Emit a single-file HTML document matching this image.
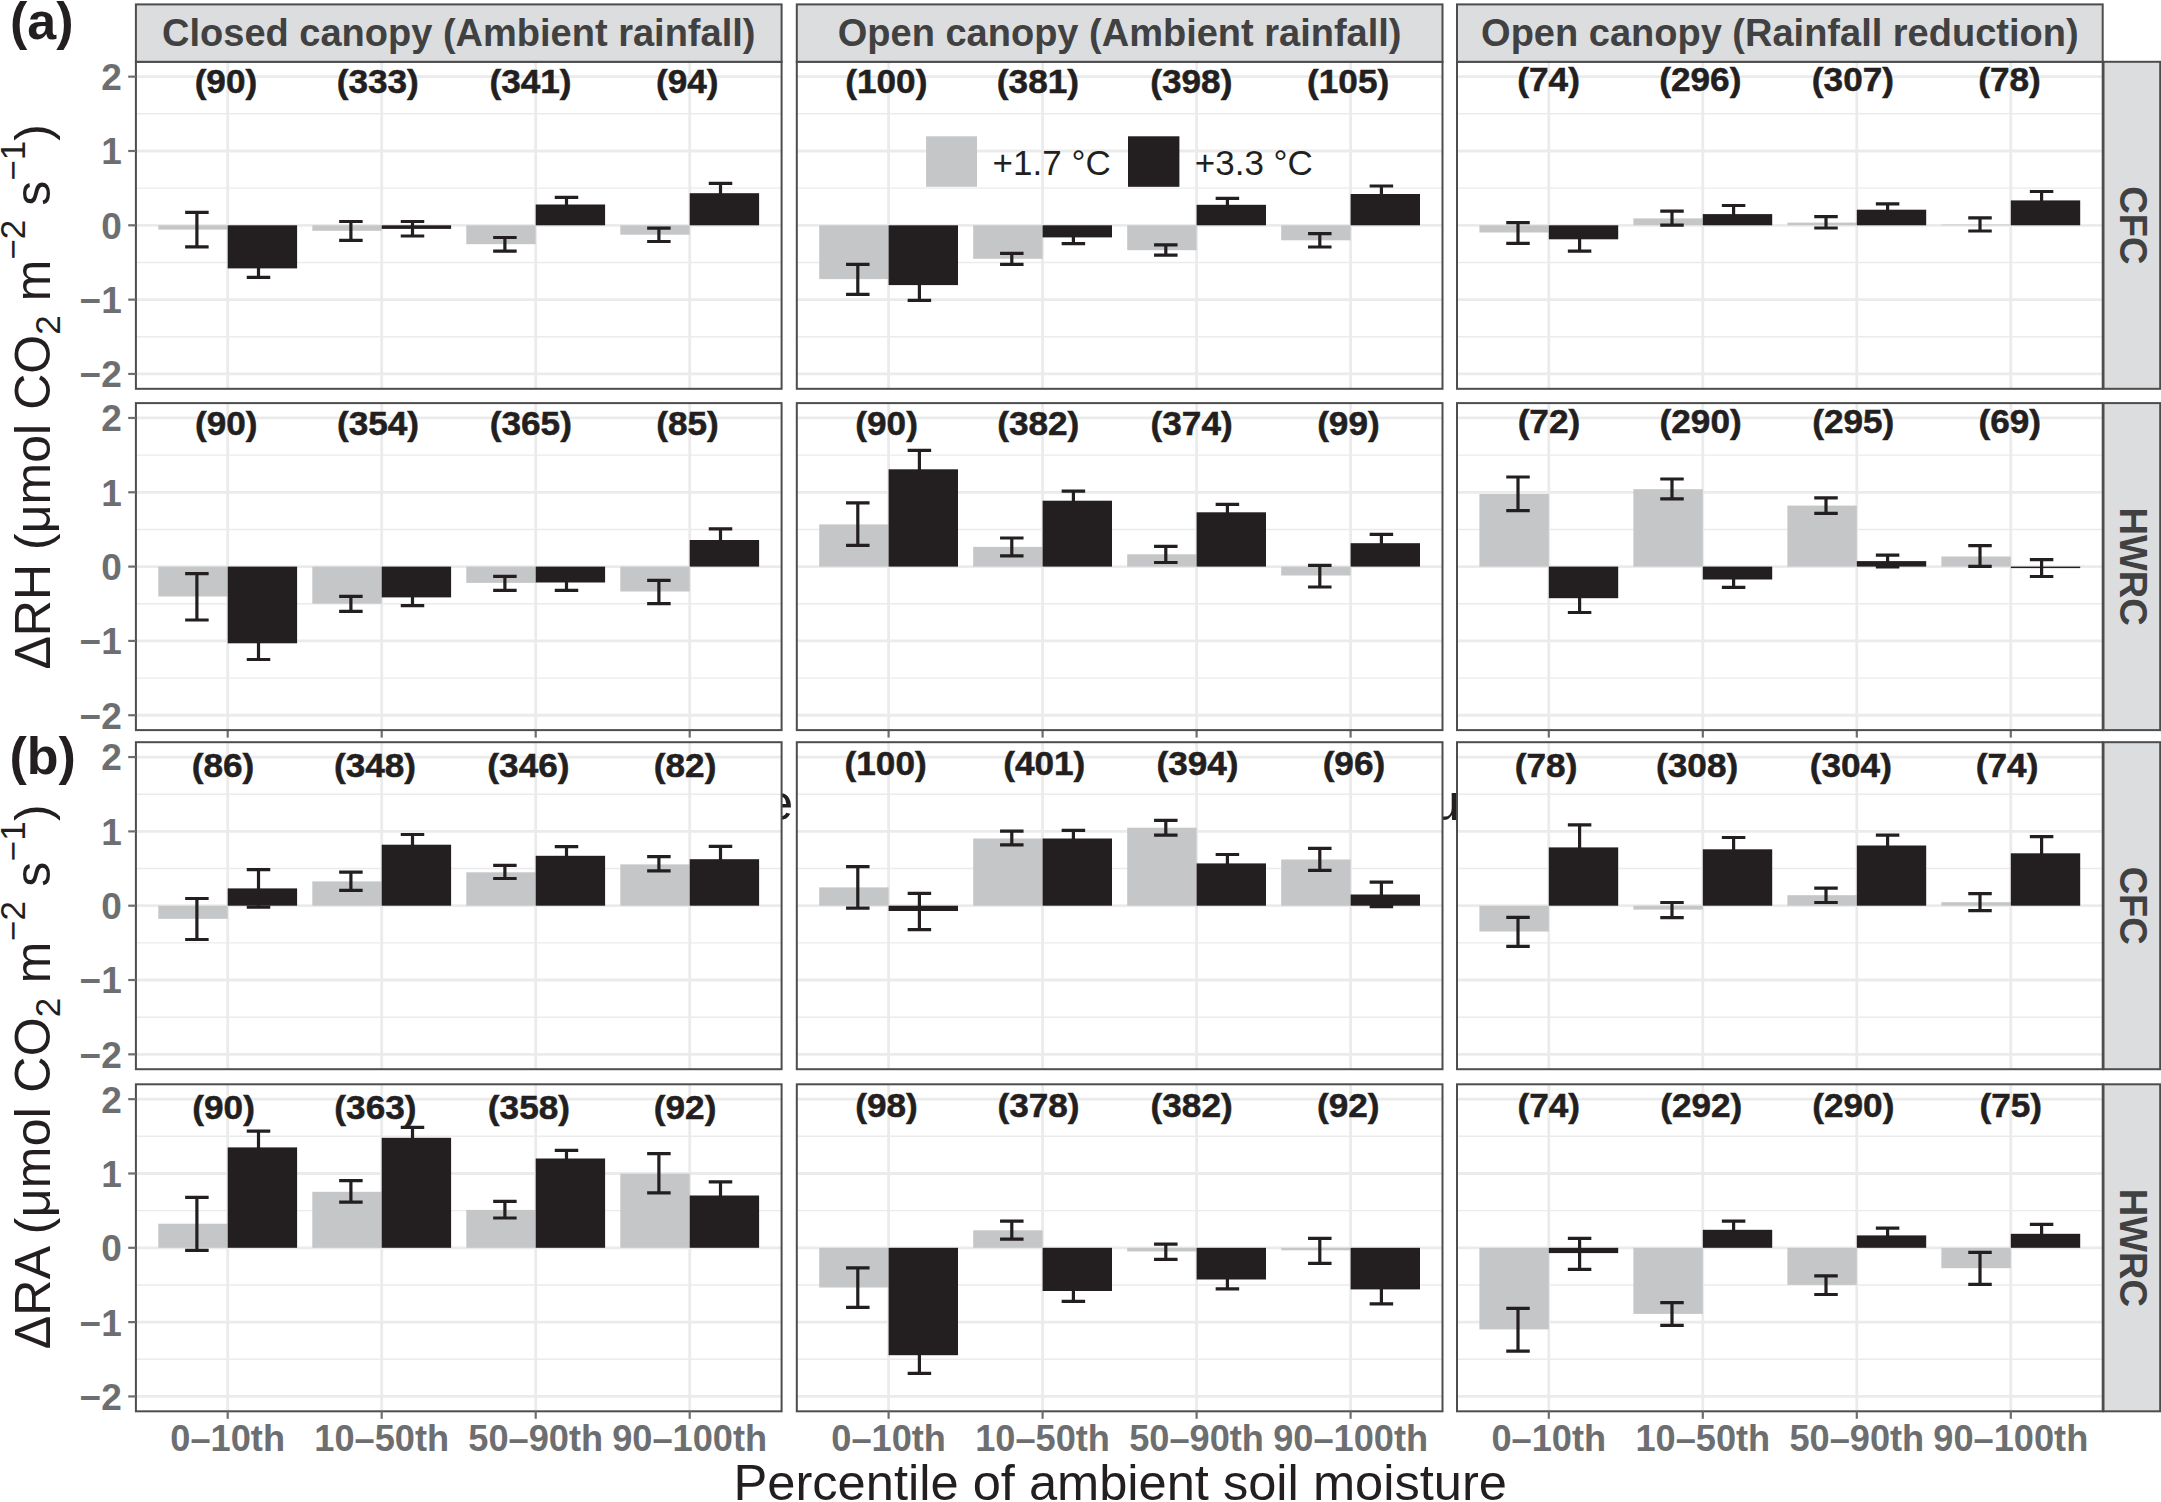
<!DOCTYPE html>
<html><head><meta charset="utf-8"><title>Warming effects on soil respiration</title>
<style>
html,body{margin:0;padding:0;background:#fff;width:2161px;height:1502px;overflow:hidden}
svg{display:block;font-family:"Liberation Sans",sans-serif}
</style></head><body>
<svg width="2161" height="1502" viewBox="0 0 2161 1502">
<rect width="2161" height="1502" fill="#fff"/>
<text x="765" y="820" font-size="50.6" fill="#231f20">e</text>
<text x="1431.5" y="820" font-size="50.6" fill="#231f20">u</text>
<line x1="227.7" y1="730.1" x2="227.7" y2="737.6" stroke="#6d6e70" stroke-width="2.2"/>
<line x1="381.7" y1="730.1" x2="381.7" y2="737.6" stroke="#6d6e70" stroke-width="2.2"/>
<line x1="535.7" y1="730.1" x2="535.7" y2="737.6" stroke="#6d6e70" stroke-width="2.2"/>
<line x1="689.7" y1="730.1" x2="689.7" y2="737.6" stroke="#6d6e70" stroke-width="2.2"/>
<line x1="888.6" y1="730.1" x2="888.6" y2="737.6" stroke="#6d6e70" stroke-width="2.2"/>
<line x1="1042.6" y1="730.1" x2="1042.6" y2="737.6" stroke="#6d6e70" stroke-width="2.2"/>
<line x1="1196.6" y1="730.1" x2="1196.6" y2="737.6" stroke="#6d6e70" stroke-width="2.2"/>
<line x1="1350.6" y1="730.1" x2="1350.6" y2="737.6" stroke="#6d6e70" stroke-width="2.2"/>
<line x1="1548.8" y1="730.1" x2="1548.8" y2="737.6" stroke="#6d6e70" stroke-width="2.2"/>
<line x1="1702.8" y1="730.1" x2="1702.8" y2="737.6" stroke="#6d6e70" stroke-width="2.2"/>
<line x1="1856.8" y1="730.1" x2="1856.8" y2="737.6" stroke="#6d6e70" stroke-width="2.2"/>
<line x1="2010.8" y1="730.1" x2="2010.8" y2="737.6" stroke="#6d6e70" stroke-width="2.2"/>
<rect x="135.9" y="61.8" width="645.7" height="327.01" fill="#fff"/>
<line x1="135.9" y1="113.82" x2="781.6" y2="113.82" stroke="#ebebeb" stroke-width="1.4"/>
<line x1="135.9" y1="188.14" x2="781.6" y2="188.14" stroke="#ebebeb" stroke-width="1.4"/>
<line x1="135.9" y1="262.46" x2="781.6" y2="262.46" stroke="#ebebeb" stroke-width="1.4"/>
<line x1="135.9" y1="336.78" x2="781.6" y2="336.78" stroke="#ebebeb" stroke-width="1.4"/>
<line x1="135.9" y1="76.66" x2="781.6" y2="76.66" stroke="#ebebeb" stroke-width="2.8"/>
<line x1="135.9" y1="150.98" x2="781.6" y2="150.98" stroke="#ebebeb" stroke-width="2.8"/>
<line x1="135.9" y1="225.3" x2="781.6" y2="225.3" stroke="#ebebeb" stroke-width="2.8"/>
<line x1="135.9" y1="299.62" x2="781.6" y2="299.62" stroke="#ebebeb" stroke-width="2.8"/>
<line x1="135.9" y1="373.94" x2="781.6" y2="373.94" stroke="#ebebeb" stroke-width="2.8"/>
<line x1="227.7" y1="61.8" x2="227.7" y2="388.8" stroke="#ebebeb" stroke-width="2.8"/>
<line x1="381.7" y1="61.8" x2="381.7" y2="388.8" stroke="#ebebeb" stroke-width="2.8"/>
<line x1="535.7" y1="61.8" x2="535.7" y2="388.8" stroke="#ebebeb" stroke-width="2.8"/>
<line x1="689.7" y1="61.8" x2="689.7" y2="388.8" stroke="#ebebeb" stroke-width="2.8"/>
<rect x="158.3" y="225.3" width="69.4" height="4.3" fill="#c5c6c8"/>
<path d="M246.75 259.4H270.25M246.75 277.4H270.25M258.5 259.4V277.4" stroke="#231f20" stroke-width="3.2" fill="none"/>
<rect x="227.7" y="225.3" width="69.4" height="43.1" fill="#231f20"/>
<path d="M185.15 212.3H208.65M185.15 246.9H208.65M196.9 212.3V246.9" stroke="#231f20" stroke-width="3.2" fill="none"/>
<text transform="translate(225.9 93.4) scale(1.05 1)" text-anchor="middle" font-size="33.5" font-weight="bold" fill="#231f20" stroke="#231f20" stroke-width="0.5">(90)</text>
<rect x="312.3" y="225.3" width="69.4" height="5.5" fill="#c5c6c8"/>
<path d="M400.75 221.5H424.25M400.75 236H424.25M412.5 221.5V236" stroke="#231f20" stroke-width="3.2" fill="none"/>
<rect x="381.7" y="225.3" width="69.4" height="3.6" fill="#231f20"/>
<path d="M339.15 221.5H362.65M339.15 240.3H362.65M350.9 221.5V240.3" stroke="#231f20" stroke-width="3.2" fill="none"/>
<text transform="translate(377.7 93.4) scale(1.05 1)" text-anchor="middle" font-size="33.5" font-weight="bold" fill="#231f20" stroke="#231f20" stroke-width="0.5">(333)</text>
<rect x="466.3" y="225.3" width="69.4" height="18.9" fill="#c5c6c8"/>
<path d="M554.75 197.4H578.25M554.75 211.6H578.25M566.5 197.4V211.6" stroke="#231f20" stroke-width="3.2" fill="none"/>
<rect x="535.7" y="204.5" width="69.4" height="20.8" fill="#231f20"/>
<path d="M493.15 237.5H516.65M493.15 251.2H516.65M504.9 237.5V251.2" stroke="#231f20" stroke-width="3.2" fill="none"/>
<text transform="translate(530.5 93.4) scale(1.05 1)" text-anchor="middle" font-size="33.5" font-weight="bold" fill="#231f20" stroke="#231f20" stroke-width="0.5">(341)</text>
<rect x="620.3" y="225.3" width="69.4" height="9.4" fill="#c5c6c8"/>
<path d="M708.75 183.3H732.25M708.75 203.1H732.25M720.5 183.3V203.1" stroke="#231f20" stroke-width="3.2" fill="none"/>
<rect x="689.7" y="193.2" width="69.4" height="32.1" fill="#231f20"/>
<path d="M647.15 228.1H670.65M647.15 241.5H670.65M658.9 228.1V241.5" stroke="#231f20" stroke-width="3.2" fill="none"/>
<text transform="translate(687.2 93.4) scale(1.05 1)" text-anchor="middle" font-size="33.5" font-weight="bold" fill="#231f20" stroke="#231f20" stroke-width="0.5">(94)</text>
<rect x="135.9" y="61.8" width="645.7" height="327.01" fill="none" stroke="#4d4d4d" stroke-width="2"/>
<rect x="796.8" y="61.8" width="645.7" height="327.01" fill="#fff"/>
<line x1="796.8" y1="113.82" x2="1442.5" y2="113.82" stroke="#ebebeb" stroke-width="1.4"/>
<line x1="796.8" y1="188.14" x2="1442.5" y2="188.14" stroke="#ebebeb" stroke-width="1.4"/>
<line x1="796.8" y1="262.46" x2="1442.5" y2="262.46" stroke="#ebebeb" stroke-width="1.4"/>
<line x1="796.8" y1="336.78" x2="1442.5" y2="336.78" stroke="#ebebeb" stroke-width="1.4"/>
<line x1="796.8" y1="76.66" x2="1442.5" y2="76.66" stroke="#ebebeb" stroke-width="2.8"/>
<line x1="796.8" y1="150.98" x2="1442.5" y2="150.98" stroke="#ebebeb" stroke-width="2.8"/>
<line x1="796.8" y1="225.3" x2="1442.5" y2="225.3" stroke="#ebebeb" stroke-width="2.8"/>
<line x1="796.8" y1="299.62" x2="1442.5" y2="299.62" stroke="#ebebeb" stroke-width="2.8"/>
<line x1="796.8" y1="373.94" x2="1442.5" y2="373.94" stroke="#ebebeb" stroke-width="2.8"/>
<line x1="888.6" y1="61.8" x2="888.6" y2="388.8" stroke="#ebebeb" stroke-width="2.8"/>
<line x1="1042.6" y1="61.8" x2="1042.6" y2="388.8" stroke="#ebebeb" stroke-width="2.8"/>
<line x1="1196.6" y1="61.8" x2="1196.6" y2="388.8" stroke="#ebebeb" stroke-width="2.8"/>
<line x1="1350.6" y1="61.8" x2="1350.6" y2="388.8" stroke="#ebebeb" stroke-width="2.8"/>
<rect x="819.2" y="225.3" width="69.4" height="53.8" fill="#c5c6c8"/>
<path d="M907.65 269.9H931.15M907.65 300.3H931.15M919.4 269.9V300.3" stroke="#231f20" stroke-width="3.2" fill="none"/>
<rect x="888.6" y="225.3" width="69.4" height="59.8" fill="#231f20"/>
<path d="M846.05 264.3H869.55M846.05 294.4H869.55M857.8 264.3V294.4" stroke="#231f20" stroke-width="3.2" fill="none"/>
<text transform="translate(886.3 93.4) scale(1.05 1)" text-anchor="middle" font-size="33.5" font-weight="bold" fill="#231f20" stroke="#231f20" stroke-width="0.5">(100)</text>
<rect x="973.2" y="225.3" width="69.4" height="33.5" fill="#c5c6c8"/>
<path d="M1061.65 231.1H1085.15M1061.65 243.7H1085.15M1073.4 231.1V243.7" stroke="#231f20" stroke-width="3.2" fill="none"/>
<rect x="1042.6" y="225.3" width="69.4" height="12.1" fill="#231f20"/>
<path d="M1000.05 253.4H1023.55M1000.05 264.3H1023.55M1011.8 253.4V264.3" stroke="#231f20" stroke-width="3.2" fill="none"/>
<text transform="translate(1037.9 93.4) scale(1.05 1)" text-anchor="middle" font-size="33.5" font-weight="bold" fill="#231f20" stroke="#231f20" stroke-width="0.5">(381)</text>
<rect x="1127.2" y="225.3" width="69.4" height="24.9" fill="#c5c6c8"/>
<path d="M1215.65 198.4H1239.15M1215.65 211.2H1239.15M1227.4 198.4V211.2" stroke="#231f20" stroke-width="3.2" fill="none"/>
<rect x="1196.6" y="204.8" width="69.4" height="20.5" fill="#231f20"/>
<path d="M1154.05 244.8H1177.55M1154.05 255.1H1177.55M1165.8 244.8V255.1" stroke="#231f20" stroke-width="3.2" fill="none"/>
<text transform="translate(1191.3 93.4) scale(1.05 1)" text-anchor="middle" font-size="33.5" font-weight="bold" fill="#231f20" stroke="#231f20" stroke-width="0.5">(398)</text>
<rect x="1281.2" y="225.3" width="69.4" height="15" fill="#c5c6c8"/>
<path d="M1369.65 186H1393.15M1369.65 202H1393.15M1381.4 186V202" stroke="#231f20" stroke-width="3.2" fill="none"/>
<rect x="1350.6" y="194" width="69.4" height="31.3" fill="#231f20"/>
<path d="M1308.05 233.7H1331.55M1308.05 247H1331.55M1319.8 233.7V247" stroke="#231f20" stroke-width="3.2" fill="none"/>
<text transform="translate(1348.1 93.4) scale(1.05 1)" text-anchor="middle" font-size="33.5" font-weight="bold" fill="#231f20" stroke="#231f20" stroke-width="0.5">(105)</text>
<rect x="796.8" y="61.8" width="645.7" height="327.01" fill="none" stroke="#4d4d4d" stroke-width="2"/>
<rect x="1457" y="61.8" width="645.7" height="327.01" fill="#fff"/>
<line x1="1457" y1="113.82" x2="2102.7" y2="113.82" stroke="#ebebeb" stroke-width="1.4"/>
<line x1="1457" y1="188.14" x2="2102.7" y2="188.14" stroke="#ebebeb" stroke-width="1.4"/>
<line x1="1457" y1="262.46" x2="2102.7" y2="262.46" stroke="#ebebeb" stroke-width="1.4"/>
<line x1="1457" y1="336.78" x2="2102.7" y2="336.78" stroke="#ebebeb" stroke-width="1.4"/>
<line x1="1457" y1="76.66" x2="2102.7" y2="76.66" stroke="#ebebeb" stroke-width="2.8"/>
<line x1="1457" y1="150.98" x2="2102.7" y2="150.98" stroke="#ebebeb" stroke-width="2.8"/>
<line x1="1457" y1="225.3" x2="2102.7" y2="225.3" stroke="#ebebeb" stroke-width="2.8"/>
<line x1="1457" y1="299.62" x2="2102.7" y2="299.62" stroke="#ebebeb" stroke-width="2.8"/>
<line x1="1457" y1="373.94" x2="2102.7" y2="373.94" stroke="#ebebeb" stroke-width="2.8"/>
<line x1="1548.8" y1="61.8" x2="1548.8" y2="388.8" stroke="#ebebeb" stroke-width="2.8"/>
<line x1="1702.8" y1="61.8" x2="1702.8" y2="388.8" stroke="#ebebeb" stroke-width="2.8"/>
<line x1="1856.8" y1="61.8" x2="1856.8" y2="388.8" stroke="#ebebeb" stroke-width="2.8"/>
<line x1="2010.8" y1="61.8" x2="2010.8" y2="388.8" stroke="#ebebeb" stroke-width="2.8"/>
<rect x="1479.4" y="225.3" width="69.4" height="7.2" fill="#c5c6c8"/>
<path d="M1567.85 227.5H1591.35M1567.85 251.1H1591.35M1579.6 227.5V251.1" stroke="#231f20" stroke-width="3.2" fill="none"/>
<rect x="1548.8" y="225.3" width="69.4" height="14" fill="#231f20"/>
<path d="M1506.25 222.6H1529.75M1506.25 243.3H1529.75M1518 222.6V243.3" stroke="#231f20" stroke-width="3.2" fill="none"/>
<text transform="translate(1548.6 90.9) scale(1.05 1)" text-anchor="middle" font-size="33.5" font-weight="bold" fill="#231f20" stroke="#231f20" stroke-width="0.5">(74)</text>
<rect x="1633.4" y="218.4" width="69.4" height="6.9" fill="#c5c6c8"/>
<path d="M1721.85 205.5H1745.35M1721.85 222.7H1745.35M1733.6 205.5V222.7" stroke="#231f20" stroke-width="3.2" fill="none"/>
<rect x="1702.8" y="214.1" width="69.4" height="11.2" fill="#231f20"/>
<path d="M1660.25 211.2H1683.75M1660.25 225.2H1683.75M1672 211.2V225.2" stroke="#231f20" stroke-width="3.2" fill="none"/>
<text transform="translate(1700.3 90.9) scale(1.05 1)" text-anchor="middle" font-size="33.5" font-weight="bold" fill="#231f20" stroke="#231f20" stroke-width="0.5">(296)</text>
<rect x="1787.4" y="222.6" width="69.4" height="2.7" fill="#c5c6c8"/>
<path d="M1875.85 203.8H1899.35M1875.85 215.6H1899.35M1887.6 203.8V215.6" stroke="#231f20" stroke-width="3.2" fill="none"/>
<rect x="1856.8" y="209.7" width="69.4" height="15.6" fill="#231f20"/>
<path d="M1814.25 216.6H1837.75M1814.25 228H1837.75M1826 216.6V228" stroke="#231f20" stroke-width="3.2" fill="none"/>
<text transform="translate(1852.9 90.9) scale(1.05 1)" text-anchor="middle" font-size="33.5" font-weight="bold" fill="#231f20" stroke="#231f20" stroke-width="0.5">(307)</text>
<rect x="1941.4" y="224.5" width="69.4" height="0.8" fill="#c5c6c8"/>
<path d="M2029.85 191.5H2053.35M2029.85 209.3H2053.35M2041.6 191.5V209.3" stroke="#231f20" stroke-width="3.2" fill="none"/>
<rect x="2010.8" y="200.4" width="69.4" height="24.9" fill="#231f20"/>
<path d="M1968.25 217.8H1991.75M1968.25 231H1991.75M1980 217.8V231" stroke="#231f20" stroke-width="3.2" fill="none"/>
<text transform="translate(2009.5 90.9) scale(1.05 1)" text-anchor="middle" font-size="33.5" font-weight="bold" fill="#231f20" stroke="#231f20" stroke-width="0.5">(78)</text>
<rect x="1457" y="61.8" width="645.7" height="327.01" fill="none" stroke="#4d4d4d" stroke-width="2"/>
<rect x="2103.5" y="61.8" width="56.7" height="327.01" fill="#dcdddf" stroke="#4d4d4d" stroke-width="2"/>
<text transform="translate(2119.5 225.3) rotate(90)" text-anchor="middle" font-size="38" font-weight="bold" fill="#414141">CFC</text>
<line x1="128.2" y1="76.66" x2="135.9" y2="76.66" stroke="#6d6e70" stroke-width="2.2"/>
<text x="121.8" y="90.06" text-anchor="end" font-size="37" font-weight="bold" fill="#6d6e70">2</text>
<line x1="128.2" y1="150.98" x2="135.9" y2="150.98" stroke="#6d6e70" stroke-width="2.2"/>
<text x="121.8" y="164.38" text-anchor="end" font-size="37" font-weight="bold" fill="#6d6e70">1</text>
<line x1="128.2" y1="225.3" x2="135.9" y2="225.3" stroke="#6d6e70" stroke-width="2.2"/>
<text x="121.8" y="238.7" text-anchor="end" font-size="37" font-weight="bold" fill="#6d6e70">0</text>
<line x1="128.2" y1="299.62" x2="135.9" y2="299.62" stroke="#6d6e70" stroke-width="2.2"/>
<text x="121.8" y="313.02" text-anchor="end" font-size="37" font-weight="bold" fill="#6d6e70">−1</text>
<line x1="128.2" y1="373.94" x2="135.9" y2="373.94" stroke="#6d6e70" stroke-width="2.2"/>
<text x="121.8" y="387.34" text-anchor="end" font-size="37" font-weight="bold" fill="#6d6e70">−2</text>
<rect x="135.9" y="403.1" width="645.7" height="327.01" fill="#fff"/>
<line x1="135.9" y1="455.12" x2="781.6" y2="455.12" stroke="#ebebeb" stroke-width="1.4"/>
<line x1="135.9" y1="529.44" x2="781.6" y2="529.44" stroke="#ebebeb" stroke-width="1.4"/>
<line x1="135.9" y1="603.76" x2="781.6" y2="603.76" stroke="#ebebeb" stroke-width="1.4"/>
<line x1="135.9" y1="678.08" x2="781.6" y2="678.08" stroke="#ebebeb" stroke-width="1.4"/>
<line x1="135.9" y1="417.96" x2="781.6" y2="417.96" stroke="#ebebeb" stroke-width="2.8"/>
<line x1="135.9" y1="492.28" x2="781.6" y2="492.28" stroke="#ebebeb" stroke-width="2.8"/>
<line x1="135.9" y1="566.6" x2="781.6" y2="566.6" stroke="#ebebeb" stroke-width="2.8"/>
<line x1="135.9" y1="640.92" x2="781.6" y2="640.92" stroke="#ebebeb" stroke-width="2.8"/>
<line x1="135.9" y1="715.24" x2="781.6" y2="715.24" stroke="#ebebeb" stroke-width="2.8"/>
<line x1="227.7" y1="403.1" x2="227.7" y2="730.1" stroke="#ebebeb" stroke-width="2.8"/>
<line x1="381.7" y1="403.1" x2="381.7" y2="730.1" stroke="#ebebeb" stroke-width="2.8"/>
<line x1="535.7" y1="403.1" x2="535.7" y2="730.1" stroke="#ebebeb" stroke-width="2.8"/>
<line x1="689.7" y1="403.1" x2="689.7" y2="730.1" stroke="#ebebeb" stroke-width="2.8"/>
<rect x="158.3" y="566.6" width="69.4" height="29.9" fill="#c5c6c8"/>
<path d="M246.75 627.1H270.25M246.75 659.5H270.25M258.5 627.1V659.5" stroke="#231f20" stroke-width="3.2" fill="none"/>
<rect x="227.7" y="566.6" width="69.4" height="76.7" fill="#231f20"/>
<path d="M185.15 573.6H208.65M185.15 620H208.65M196.9 573.6V620" stroke="#231f20" stroke-width="3.2" fill="none"/>
<text transform="translate(226.2 435.1) scale(1.05 1)" text-anchor="middle" font-size="33.5" font-weight="bold" fill="#231f20" stroke="#231f20" stroke-width="0.5">(90)</text>
<rect x="312.3" y="566.6" width="69.4" height="37.1" fill="#c5c6c8"/>
<path d="M400.75 589.2H424.25M400.75 605.6H424.25M412.5 589.2V605.6" stroke="#231f20" stroke-width="3.2" fill="none"/>
<rect x="381.7" y="566.6" width="69.4" height="30.8" fill="#231f20"/>
<path d="M339.15 596.3H362.65M339.15 611.4H362.65M350.9 596.3V611.4" stroke="#231f20" stroke-width="3.2" fill="none"/>
<text transform="translate(378 435.1) scale(1.05 1)" text-anchor="middle" font-size="33.5" font-weight="bold" fill="#231f20" stroke="#231f20" stroke-width="0.5">(354)</text>
<rect x="466.3" y="566.6" width="69.4" height="16.3" fill="#c5c6c8"/>
<path d="M554.75 574.7H578.25M554.75 590.3H578.25M566.5 574.7V590.3" stroke="#231f20" stroke-width="3.2" fill="none"/>
<rect x="535.7" y="566.6" width="69.4" height="15.9" fill="#231f20"/>
<path d="M493.15 576.3H516.65M493.15 590.3H516.65M504.9 576.3V590.3" stroke="#231f20" stroke-width="3.2" fill="none"/>
<text transform="translate(530.8 435.1) scale(1.05 1)" text-anchor="middle" font-size="33.5" font-weight="bold" fill="#231f20" stroke="#231f20" stroke-width="0.5">(365)</text>
<rect x="620.3" y="566.6" width="69.4" height="24.9" fill="#c5c6c8"/>
<path d="M708.75 528.9H732.25M708.75 551.1H732.25M720.5 528.9V551.1" stroke="#231f20" stroke-width="3.2" fill="none"/>
<rect x="689.7" y="540" width="69.4" height="26.6" fill="#231f20"/>
<path d="M647.15 580.4H670.65M647.15 603.6H670.65M658.9 580.4V603.6" stroke="#231f20" stroke-width="3.2" fill="none"/>
<text transform="translate(687.5 435.1) scale(1.05 1)" text-anchor="middle" font-size="33.5" font-weight="bold" fill="#231f20" stroke="#231f20" stroke-width="0.5">(85)</text>
<rect x="135.9" y="403.1" width="645.7" height="327.01" fill="none" stroke="#4d4d4d" stroke-width="2"/>
<rect x="796.8" y="403.1" width="645.7" height="327.01" fill="#fff"/>
<line x1="796.8" y1="455.12" x2="1442.5" y2="455.12" stroke="#ebebeb" stroke-width="1.4"/>
<line x1="796.8" y1="529.44" x2="1442.5" y2="529.44" stroke="#ebebeb" stroke-width="1.4"/>
<line x1="796.8" y1="603.76" x2="1442.5" y2="603.76" stroke="#ebebeb" stroke-width="1.4"/>
<line x1="796.8" y1="678.08" x2="1442.5" y2="678.08" stroke="#ebebeb" stroke-width="1.4"/>
<line x1="796.8" y1="417.96" x2="1442.5" y2="417.96" stroke="#ebebeb" stroke-width="2.8"/>
<line x1="796.8" y1="492.28" x2="1442.5" y2="492.28" stroke="#ebebeb" stroke-width="2.8"/>
<line x1="796.8" y1="566.6" x2="1442.5" y2="566.6" stroke="#ebebeb" stroke-width="2.8"/>
<line x1="796.8" y1="640.92" x2="1442.5" y2="640.92" stroke="#ebebeb" stroke-width="2.8"/>
<line x1="796.8" y1="715.24" x2="1442.5" y2="715.24" stroke="#ebebeb" stroke-width="2.8"/>
<line x1="888.6" y1="403.1" x2="888.6" y2="730.1" stroke="#ebebeb" stroke-width="2.8"/>
<line x1="1042.6" y1="403.1" x2="1042.6" y2="730.1" stroke="#ebebeb" stroke-width="2.8"/>
<line x1="1196.6" y1="403.1" x2="1196.6" y2="730.1" stroke="#ebebeb" stroke-width="2.8"/>
<line x1="1350.6" y1="403.1" x2="1350.6" y2="730.1" stroke="#ebebeb" stroke-width="2.8"/>
<rect x="819.2" y="524.4" width="69.4" height="42.2" fill="#c5c6c8"/>
<path d="M907.65 450.4H931.15M907.65 488.2H931.15M919.4 450.4V488.2" stroke="#231f20" stroke-width="3.2" fill="none"/>
<rect x="888.6" y="469.3" width="69.4" height="97.3" fill="#231f20"/>
<path d="M846.05 502.9H869.55M846.05 545.4H869.55M857.8 502.9V545.4" stroke="#231f20" stroke-width="3.2" fill="none"/>
<text transform="translate(886.6 435.1) scale(1.05 1)" text-anchor="middle" font-size="33.5" font-weight="bold" fill="#231f20" stroke="#231f20" stroke-width="0.5">(90)</text>
<rect x="973.2" y="546.9" width="69.4" height="19.7" fill="#c5c6c8"/>
<path d="M1061.65 491.1H1085.15M1061.65 510.3H1085.15M1073.4 491.1V510.3" stroke="#231f20" stroke-width="3.2" fill="none"/>
<rect x="1042.6" y="500.7" width="69.4" height="65.9" fill="#231f20"/>
<path d="M1000.05 538H1023.55M1000.05 555.8H1023.55M1011.8 538V555.8" stroke="#231f20" stroke-width="3.2" fill="none"/>
<text transform="translate(1038.2 435.1) scale(1.05 1)" text-anchor="middle" font-size="33.5" font-weight="bold" fill="#231f20" stroke="#231f20" stroke-width="0.5">(382)</text>
<rect x="1127.2" y="554.3" width="69.4" height="12.3" fill="#c5c6c8"/>
<path d="M1215.65 504.4H1239.15M1215.65 520.2H1239.15M1227.4 504.4V520.2" stroke="#231f20" stroke-width="3.2" fill="none"/>
<rect x="1196.6" y="512.3" width="69.4" height="54.3" fill="#231f20"/>
<path d="M1154.05 546.3H1177.55M1154.05 562.5H1177.55M1165.8 546.3V562.5" stroke="#231f20" stroke-width="3.2" fill="none"/>
<text transform="translate(1191.6 435.1) scale(1.05 1)" text-anchor="middle" font-size="33.5" font-weight="bold" fill="#231f20" stroke="#231f20" stroke-width="0.5">(374)</text>
<rect x="1281.2" y="566.6" width="69.4" height="8.9" fill="#c5c6c8"/>
<path d="M1369.65 534.3H1393.15M1369.65 552.1H1393.15M1381.4 534.3V552.1" stroke="#231f20" stroke-width="3.2" fill="none"/>
<rect x="1350.6" y="543.2" width="69.4" height="23.4" fill="#231f20"/>
<path d="M1308.05 565.4H1331.55M1308.05 587H1331.55M1319.8 565.4V587" stroke="#231f20" stroke-width="3.2" fill="none"/>
<text transform="translate(1348.4 435.1) scale(1.05 1)" text-anchor="middle" font-size="33.5" font-weight="bold" fill="#231f20" stroke="#231f20" stroke-width="0.5">(99)</text>
<rect x="796.8" y="403.1" width="645.7" height="327.01" fill="none" stroke="#4d4d4d" stroke-width="2"/>
<rect x="1457" y="403.1" width="645.7" height="327.01" fill="#fff"/>
<line x1="1457" y1="455.12" x2="2102.7" y2="455.12" stroke="#ebebeb" stroke-width="1.4"/>
<line x1="1457" y1="529.44" x2="2102.7" y2="529.44" stroke="#ebebeb" stroke-width="1.4"/>
<line x1="1457" y1="603.76" x2="2102.7" y2="603.76" stroke="#ebebeb" stroke-width="1.4"/>
<line x1="1457" y1="678.08" x2="2102.7" y2="678.08" stroke="#ebebeb" stroke-width="1.4"/>
<line x1="1457" y1="417.96" x2="2102.7" y2="417.96" stroke="#ebebeb" stroke-width="2.8"/>
<line x1="1457" y1="492.28" x2="2102.7" y2="492.28" stroke="#ebebeb" stroke-width="2.8"/>
<line x1="1457" y1="566.6" x2="2102.7" y2="566.6" stroke="#ebebeb" stroke-width="2.8"/>
<line x1="1457" y1="640.92" x2="2102.7" y2="640.92" stroke="#ebebeb" stroke-width="2.8"/>
<line x1="1457" y1="715.24" x2="2102.7" y2="715.24" stroke="#ebebeb" stroke-width="2.8"/>
<line x1="1548.8" y1="403.1" x2="1548.8" y2="730.1" stroke="#ebebeb" stroke-width="2.8"/>
<line x1="1702.8" y1="403.1" x2="1702.8" y2="730.1" stroke="#ebebeb" stroke-width="2.8"/>
<line x1="1856.8" y1="403.1" x2="1856.8" y2="730.1" stroke="#ebebeb" stroke-width="2.8"/>
<line x1="2010.8" y1="403.1" x2="2010.8" y2="730.1" stroke="#ebebeb" stroke-width="2.8"/>
<rect x="1479.4" y="494" width="69.4" height="72.6" fill="#c5c6c8"/>
<path d="M1567.85 583.9H1591.35M1567.85 612.5H1591.35M1579.6 583.9V612.5" stroke="#231f20" stroke-width="3.2" fill="none"/>
<rect x="1548.8" y="566.6" width="69.4" height="31.6" fill="#231f20"/>
<path d="M1506.25 477H1529.75M1506.25 510.6H1529.75M1518 477V510.6" stroke="#231f20" stroke-width="3.2" fill="none"/>
<text transform="translate(1548.9 432.8) scale(1.05 1)" text-anchor="middle" font-size="33.5" font-weight="bold" fill="#231f20" stroke="#231f20" stroke-width="0.5">(72)</text>
<rect x="1633.4" y="489.2" width="69.4" height="77.4" fill="#c5c6c8"/>
<path d="M1721.85 571.7H1745.35M1721.85 587.3H1745.35M1733.6 571.7V587.3" stroke="#231f20" stroke-width="3.2" fill="none"/>
<rect x="1702.8" y="566.6" width="69.4" height="12.9" fill="#231f20"/>
<path d="M1660.25 479H1683.75M1660.25 498.8H1683.75M1672 479V498.8" stroke="#231f20" stroke-width="3.2" fill="none"/>
<text transform="translate(1700.6 432.8) scale(1.05 1)" text-anchor="middle" font-size="33.5" font-weight="bold" fill="#231f20" stroke="#231f20" stroke-width="0.5">(290)</text>
<rect x="1787.4" y="505.6" width="69.4" height="61" fill="#c5c6c8"/>
<path d="M1875.85 555.2H1899.35M1875.85 567H1899.35M1887.6 555.2V567" stroke="#231f20" stroke-width="3.2" fill="none"/>
<rect x="1856.8" y="561.1" width="69.4" height="5.5" fill="#231f20"/>
<path d="M1814.25 497.8H1837.75M1814.25 513.3H1837.75M1826 497.8V513.3" stroke="#231f20" stroke-width="3.2" fill="none"/>
<text transform="translate(1853.2 432.8) scale(1.05 1)" text-anchor="middle" font-size="33.5" font-weight="bold" fill="#231f20" stroke="#231f20" stroke-width="0.5">(295)</text>
<rect x="1941.4" y="556.5" width="69.4" height="10.1" fill="#c5c6c8"/>
<path d="M2029.85 559.7H2053.35M2029.85 576.5H2053.35M2041.6 559.7V576.5" stroke="#231f20" stroke-width="3.2" fill="none"/>
<rect x="2010.8" y="566.6" width="69.4" height="1.5" fill="#231f20"/>
<path d="M1968.25 545.6H1991.75M1968.25 566.3H1991.75M1980 545.6V566.3" stroke="#231f20" stroke-width="3.2" fill="none"/>
<text transform="translate(2009.8 432.8) scale(1.05 1)" text-anchor="middle" font-size="33.5" font-weight="bold" fill="#231f20" stroke="#231f20" stroke-width="0.5">(69)</text>
<rect x="1457" y="403.1" width="645.7" height="327.01" fill="none" stroke="#4d4d4d" stroke-width="2"/>
<rect x="2103.5" y="403.1" width="56.7" height="327.01" fill="#dcdddf" stroke="#4d4d4d" stroke-width="2"/>
<text transform="translate(2119.5 566.6) rotate(90)" text-anchor="middle" font-size="38" font-weight="bold" fill="#414141">HWRC</text>
<line x1="128.2" y1="417.96" x2="135.9" y2="417.96" stroke="#6d6e70" stroke-width="2.2"/>
<text x="121.8" y="431.36" text-anchor="end" font-size="37" font-weight="bold" fill="#6d6e70">2</text>
<line x1="128.2" y1="492.28" x2="135.9" y2="492.28" stroke="#6d6e70" stroke-width="2.2"/>
<text x="121.8" y="505.68" text-anchor="end" font-size="37" font-weight="bold" fill="#6d6e70">1</text>
<line x1="128.2" y1="566.6" x2="135.9" y2="566.6" stroke="#6d6e70" stroke-width="2.2"/>
<text x="121.8" y="580" text-anchor="end" font-size="37" font-weight="bold" fill="#6d6e70">0</text>
<line x1="128.2" y1="640.92" x2="135.9" y2="640.92" stroke="#6d6e70" stroke-width="2.2"/>
<text x="121.8" y="654.32" text-anchor="end" font-size="37" font-weight="bold" fill="#6d6e70">−1</text>
<line x1="128.2" y1="715.24" x2="135.9" y2="715.24" stroke="#6d6e70" stroke-width="2.2"/>
<text x="121.8" y="728.64" text-anchor="end" font-size="37" font-weight="bold" fill="#6d6e70">−2</text>
<rect x="135.9" y="742.2" width="645.7" height="327.01" fill="#fff"/>
<line x1="135.9" y1="794.22" x2="781.6" y2="794.22" stroke="#ebebeb" stroke-width="1.4"/>
<line x1="135.9" y1="868.54" x2="781.6" y2="868.54" stroke="#ebebeb" stroke-width="1.4"/>
<line x1="135.9" y1="942.86" x2="781.6" y2="942.86" stroke="#ebebeb" stroke-width="1.4"/>
<line x1="135.9" y1="1017.18" x2="781.6" y2="1017.18" stroke="#ebebeb" stroke-width="1.4"/>
<line x1="135.9" y1="757.06" x2="781.6" y2="757.06" stroke="#ebebeb" stroke-width="2.8"/>
<line x1="135.9" y1="831.38" x2="781.6" y2="831.38" stroke="#ebebeb" stroke-width="2.8"/>
<line x1="135.9" y1="905.7" x2="781.6" y2="905.7" stroke="#ebebeb" stroke-width="2.8"/>
<line x1="135.9" y1="980.02" x2="781.6" y2="980.02" stroke="#ebebeb" stroke-width="2.8"/>
<line x1="135.9" y1="1054.34" x2="781.6" y2="1054.34" stroke="#ebebeb" stroke-width="2.8"/>
<line x1="227.7" y1="742.2" x2="227.7" y2="1069.2" stroke="#ebebeb" stroke-width="2.8"/>
<line x1="381.7" y1="742.2" x2="381.7" y2="1069.2" stroke="#ebebeb" stroke-width="2.8"/>
<line x1="535.7" y1="742.2" x2="535.7" y2="1069.2" stroke="#ebebeb" stroke-width="2.8"/>
<line x1="689.7" y1="742.2" x2="689.7" y2="1069.2" stroke="#ebebeb" stroke-width="2.8"/>
<rect x="158.3" y="905.7" width="69.4" height="13.1" fill="#c5c6c8"/>
<path d="M246.75 869.6H270.25M246.75 907.2H270.25M258.5 869.6V907.2" stroke="#231f20" stroke-width="3.2" fill="none"/>
<rect x="227.7" y="888.4" width="69.4" height="17.3" fill="#231f20"/>
<path d="M185.15 898.5H208.65M185.15 939.5H208.65M196.9 898.5V939.5" stroke="#231f20" stroke-width="3.2" fill="none"/>
<text transform="translate(223 776.8) scale(1.05 1)" text-anchor="middle" font-size="33.5" font-weight="bold" fill="#231f20" stroke="#231f20" stroke-width="0.5">(86)</text>
<rect x="312.3" y="881.4" width="69.4" height="24.3" fill="#c5c6c8"/>
<path d="M400.75 834.5H424.25M400.75 854.9H424.25M412.5 834.5V854.9" stroke="#231f20" stroke-width="3.2" fill="none"/>
<rect x="381.7" y="844.7" width="69.4" height="61" fill="#231f20"/>
<path d="M339.15 872.1H362.65M339.15 890.3H362.65M350.9 872.1V890.3" stroke="#231f20" stroke-width="3.2" fill="none"/>
<text transform="translate(375 776.8) scale(1.05 1)" text-anchor="middle" font-size="33.5" font-weight="bold" fill="#231f20" stroke="#231f20" stroke-width="0.5">(348)</text>
<rect x="466.3" y="872.3" width="69.4" height="33.4" fill="#c5c6c8"/>
<path d="M554.75 846.6H578.25M554.75 865H578.25M566.5 846.6V865" stroke="#231f20" stroke-width="3.2" fill="none"/>
<rect x="535.7" y="855.8" width="69.4" height="49.9" fill="#231f20"/>
<path d="M493.15 865.4H516.65M493.15 878.5H516.65M504.9 865.4V878.5" stroke="#231f20" stroke-width="3.2" fill="none"/>
<text transform="translate(528.4 776.8) scale(1.05 1)" text-anchor="middle" font-size="33.5" font-weight="bold" fill="#231f20" stroke="#231f20" stroke-width="0.5">(346)</text>
<rect x="620.3" y="864.4" width="69.4" height="41.3" fill="#c5c6c8"/>
<path d="M708.75 846.3H732.25M708.75 872.1H732.25M720.5 846.3V872.1" stroke="#231f20" stroke-width="3.2" fill="none"/>
<rect x="689.7" y="859.2" width="69.4" height="46.5" fill="#231f20"/>
<path d="M647.15 856.6H670.65M647.15 870.8H670.65M658.9 856.6V870.8" stroke="#231f20" stroke-width="3.2" fill="none"/>
<text transform="translate(685.1 776.8) scale(1.05 1)" text-anchor="middle" font-size="33.5" font-weight="bold" fill="#231f20" stroke="#231f20" stroke-width="0.5">(82)</text>
<rect x="135.9" y="742.2" width="645.7" height="327.01" fill="none" stroke="#4d4d4d" stroke-width="2"/>
<rect x="796.8" y="742.2" width="645.7" height="327.01" fill="#fff"/>
<line x1="796.8" y1="794.22" x2="1442.5" y2="794.22" stroke="#ebebeb" stroke-width="1.4"/>
<line x1="796.8" y1="868.54" x2="1442.5" y2="868.54" stroke="#ebebeb" stroke-width="1.4"/>
<line x1="796.8" y1="942.86" x2="1442.5" y2="942.86" stroke="#ebebeb" stroke-width="1.4"/>
<line x1="796.8" y1="1017.18" x2="1442.5" y2="1017.18" stroke="#ebebeb" stroke-width="1.4"/>
<line x1="796.8" y1="757.06" x2="1442.5" y2="757.06" stroke="#ebebeb" stroke-width="2.8"/>
<line x1="796.8" y1="831.38" x2="1442.5" y2="831.38" stroke="#ebebeb" stroke-width="2.8"/>
<line x1="796.8" y1="905.7" x2="1442.5" y2="905.7" stroke="#ebebeb" stroke-width="2.8"/>
<line x1="796.8" y1="980.02" x2="1442.5" y2="980.02" stroke="#ebebeb" stroke-width="2.8"/>
<line x1="796.8" y1="1054.34" x2="1442.5" y2="1054.34" stroke="#ebebeb" stroke-width="2.8"/>
<line x1="888.6" y1="742.2" x2="888.6" y2="1069.2" stroke="#ebebeb" stroke-width="2.8"/>
<line x1="1042.6" y1="742.2" x2="1042.6" y2="1069.2" stroke="#ebebeb" stroke-width="2.8"/>
<line x1="1196.6" y1="742.2" x2="1196.6" y2="1069.2" stroke="#ebebeb" stroke-width="2.8"/>
<line x1="1350.6" y1="742.2" x2="1350.6" y2="1069.2" stroke="#ebebeb" stroke-width="2.8"/>
<rect x="819.2" y="887.4" width="69.4" height="18.3" fill="#c5c6c8"/>
<path d="M907.65 893.3H931.15M907.65 929.6H931.15M919.4 893.3V929.6" stroke="#231f20" stroke-width="3.2" fill="none"/>
<rect x="888.6" y="905.7" width="69.4" height="5.3" fill="#231f20"/>
<path d="M846.05 866.6H869.55M846.05 908.1H869.55M857.8 866.6V908.1" stroke="#231f20" stroke-width="3.2" fill="none"/>
<text transform="translate(885.6 774.8) scale(1.05 1)" text-anchor="middle" font-size="33.5" font-weight="bold" fill="#231f20" stroke="#231f20" stroke-width="0.5">(100)</text>
<rect x="973.2" y="838.5" width="69.4" height="67.2" fill="#c5c6c8"/>
<path d="M1061.65 830.3H1085.15M1061.65 846.7H1085.15M1073.4 830.3V846.7" stroke="#231f20" stroke-width="3.2" fill="none"/>
<rect x="1042.6" y="838.5" width="69.4" height="67.2" fill="#231f20"/>
<path d="M1000.05 831.1H1023.55M1000.05 844.9H1023.55M1011.8 831.1V844.9" stroke="#231f20" stroke-width="3.2" fill="none"/>
<text transform="translate(1044.2 774.8) scale(1.05 1)" text-anchor="middle" font-size="33.5" font-weight="bold" fill="#231f20" stroke="#231f20" stroke-width="0.5">(401)</text>
<rect x="1127.2" y="827.7" width="69.4" height="78" fill="#c5c6c8"/>
<path d="M1215.65 854.5H1239.15M1215.65 872.3H1239.15M1227.4 854.5V872.3" stroke="#231f20" stroke-width="3.2" fill="none"/>
<rect x="1196.6" y="863.4" width="69.4" height="42.3" fill="#231f20"/>
<path d="M1154.05 820.3H1177.55M1154.05 835.1H1177.55M1165.8 820.3V835.1" stroke="#231f20" stroke-width="3.2" fill="none"/>
<text transform="translate(1197.5 774.8) scale(1.05 1)" text-anchor="middle" font-size="33.5" font-weight="bold" fill="#231f20" stroke="#231f20" stroke-width="0.5">(394)</text>
<rect x="1281.2" y="859.5" width="69.4" height="46.2" fill="#c5c6c8"/>
<path d="M1369.65 882.2H1393.15M1369.65 906.6H1393.15M1381.4 882.2V906.6" stroke="#231f20" stroke-width="3.2" fill="none"/>
<rect x="1350.6" y="894.5" width="69.4" height="11.2" fill="#231f20"/>
<path d="M1308.05 848.4H1331.55M1308.05 870.3H1331.55M1319.8 848.4V870.3" stroke="#231f20" stroke-width="3.2" fill="none"/>
<text transform="translate(1353.9 774.8) scale(1.05 1)" text-anchor="middle" font-size="33.5" font-weight="bold" fill="#231f20" stroke="#231f20" stroke-width="0.5">(96)</text>
<rect x="796.8" y="742.2" width="645.7" height="327.01" fill="none" stroke="#4d4d4d" stroke-width="2"/>
<rect x="1457" y="742.2" width="645.7" height="327.01" fill="#fff"/>
<line x1="1457" y1="794.22" x2="2102.7" y2="794.22" stroke="#ebebeb" stroke-width="1.4"/>
<line x1="1457" y1="868.54" x2="2102.7" y2="868.54" stroke="#ebebeb" stroke-width="1.4"/>
<line x1="1457" y1="942.86" x2="2102.7" y2="942.86" stroke="#ebebeb" stroke-width="1.4"/>
<line x1="1457" y1="1017.18" x2="2102.7" y2="1017.18" stroke="#ebebeb" stroke-width="1.4"/>
<line x1="1457" y1="757.06" x2="2102.7" y2="757.06" stroke="#ebebeb" stroke-width="2.8"/>
<line x1="1457" y1="831.38" x2="2102.7" y2="831.38" stroke="#ebebeb" stroke-width="2.8"/>
<line x1="1457" y1="905.7" x2="2102.7" y2="905.7" stroke="#ebebeb" stroke-width="2.8"/>
<line x1="1457" y1="980.02" x2="2102.7" y2="980.02" stroke="#ebebeb" stroke-width="2.8"/>
<line x1="1457" y1="1054.34" x2="2102.7" y2="1054.34" stroke="#ebebeb" stroke-width="2.8"/>
<line x1="1548.8" y1="742.2" x2="1548.8" y2="1069.2" stroke="#ebebeb" stroke-width="2.8"/>
<line x1="1702.8" y1="742.2" x2="1702.8" y2="1069.2" stroke="#ebebeb" stroke-width="2.8"/>
<line x1="1856.8" y1="742.2" x2="1856.8" y2="1069.2" stroke="#ebebeb" stroke-width="2.8"/>
<line x1="2010.8" y1="742.2" x2="2010.8" y2="1069.2" stroke="#ebebeb" stroke-width="2.8"/>
<rect x="1479.4" y="905.7" width="69.4" height="25.8" fill="#c5c6c8"/>
<path d="M1567.85 824.9H1591.35M1567.85 869.9H1591.35M1579.6 824.9V869.9" stroke="#231f20" stroke-width="3.2" fill="none"/>
<rect x="1548.8" y="847.4" width="69.4" height="58.3" fill="#231f20"/>
<path d="M1506.25 917.4H1529.75M1506.25 946.3H1529.75M1518 917.4V946.3" stroke="#231f20" stroke-width="3.2" fill="none"/>
<text transform="translate(1546.1 776.8) scale(1.05 1)" text-anchor="middle" font-size="33.5" font-weight="bold" fill="#231f20" stroke="#231f20" stroke-width="0.5">(78)</text>
<rect x="1633.4" y="905.7" width="69.4" height="3.9" fill="#c5c6c8"/>
<path d="M1721.85 837.5H1745.35M1721.85 861.1H1745.35M1733.6 837.5V861.1" stroke="#231f20" stroke-width="3.2" fill="none"/>
<rect x="1702.8" y="849.3" width="69.4" height="56.4" fill="#231f20"/>
<path d="M1660.25 902.5H1683.75M1660.25 917.7H1683.75M1672 902.5V917.7" stroke="#231f20" stroke-width="3.2" fill="none"/>
<text transform="translate(1697.1 776.8) scale(1.05 1)" text-anchor="middle" font-size="33.5" font-weight="bold" fill="#231f20" stroke="#231f20" stroke-width="0.5">(308)</text>
<rect x="1787.4" y="895.2" width="69.4" height="10.5" fill="#c5c6c8"/>
<path d="M1875.85 835.1H1899.35M1875.85 855.9H1899.35M1887.6 835.1V855.9" stroke="#231f20" stroke-width="3.2" fill="none"/>
<rect x="1856.8" y="845.5" width="69.4" height="60.2" fill="#231f20"/>
<path d="M1814.25 888.1H1837.75M1814.25 902.5H1837.75M1826 888.1V902.5" stroke="#231f20" stroke-width="3.2" fill="none"/>
<text transform="translate(1850.8 776.8) scale(1.05 1)" text-anchor="middle" font-size="33.5" font-weight="bold" fill="#231f20" stroke="#231f20" stroke-width="0.5">(304)</text>
<rect x="1941.4" y="902.2" width="69.4" height="3.5" fill="#c5c6c8"/>
<path d="M2029.85 836.6H2053.35M2029.85 870H2053.35M2041.6 836.6V870" stroke="#231f20" stroke-width="3.2" fill="none"/>
<rect x="2010.8" y="853.3" width="69.4" height="52.4" fill="#231f20"/>
<path d="M1968.25 893.7H1991.75M1968.25 910.6H1991.75M1980 893.7V910.6" stroke="#231f20" stroke-width="3.2" fill="none"/>
<text transform="translate(2007.1 776.8) scale(1.05 1)" text-anchor="middle" font-size="33.5" font-weight="bold" fill="#231f20" stroke="#231f20" stroke-width="0.5">(74)</text>
<rect x="1457" y="742.2" width="645.7" height="327.01" fill="none" stroke="#4d4d4d" stroke-width="2"/>
<rect x="2103.5" y="742.2" width="56.7" height="327.01" fill="#dcdddf" stroke="#4d4d4d" stroke-width="2"/>
<text transform="translate(2119.5 905.7) rotate(90)" text-anchor="middle" font-size="38" font-weight="bold" fill="#414141">CFC</text>
<line x1="128.2" y1="757.06" x2="135.9" y2="757.06" stroke="#6d6e70" stroke-width="2.2"/>
<text x="121.8" y="770.46" text-anchor="end" font-size="37" font-weight="bold" fill="#6d6e70">2</text>
<line x1="128.2" y1="831.38" x2="135.9" y2="831.38" stroke="#6d6e70" stroke-width="2.2"/>
<text x="121.8" y="844.78" text-anchor="end" font-size="37" font-weight="bold" fill="#6d6e70">1</text>
<line x1="128.2" y1="905.7" x2="135.9" y2="905.7" stroke="#6d6e70" stroke-width="2.2"/>
<text x="121.8" y="919.1" text-anchor="end" font-size="37" font-weight="bold" fill="#6d6e70">0</text>
<line x1="128.2" y1="980.02" x2="135.9" y2="980.02" stroke="#6d6e70" stroke-width="2.2"/>
<text x="121.8" y="993.42" text-anchor="end" font-size="37" font-weight="bold" fill="#6d6e70">−1</text>
<line x1="128.2" y1="1054.34" x2="135.9" y2="1054.34" stroke="#6d6e70" stroke-width="2.2"/>
<text x="121.8" y="1067.74" text-anchor="end" font-size="37" font-weight="bold" fill="#6d6e70">−2</text>
<rect x="135.9" y="1084.3" width="645.7" height="327.01" fill="#fff"/>
<line x1="135.9" y1="1136.32" x2="781.6" y2="1136.32" stroke="#ebebeb" stroke-width="1.4"/>
<line x1="135.9" y1="1210.64" x2="781.6" y2="1210.64" stroke="#ebebeb" stroke-width="1.4"/>
<line x1="135.9" y1="1284.96" x2="781.6" y2="1284.96" stroke="#ebebeb" stroke-width="1.4"/>
<line x1="135.9" y1="1359.28" x2="781.6" y2="1359.28" stroke="#ebebeb" stroke-width="1.4"/>
<line x1="135.9" y1="1099.16" x2="781.6" y2="1099.16" stroke="#ebebeb" stroke-width="2.8"/>
<line x1="135.9" y1="1173.48" x2="781.6" y2="1173.48" stroke="#ebebeb" stroke-width="2.8"/>
<line x1="135.9" y1="1247.8" x2="781.6" y2="1247.8" stroke="#ebebeb" stroke-width="2.8"/>
<line x1="135.9" y1="1322.12" x2="781.6" y2="1322.12" stroke="#ebebeb" stroke-width="2.8"/>
<line x1="135.9" y1="1396.44" x2="781.6" y2="1396.44" stroke="#ebebeb" stroke-width="2.8"/>
<line x1="227.7" y1="1084.3" x2="227.7" y2="1411.3" stroke="#ebebeb" stroke-width="2.8"/>
<line x1="381.7" y1="1084.3" x2="381.7" y2="1411.3" stroke="#ebebeb" stroke-width="2.8"/>
<line x1="535.7" y1="1084.3" x2="535.7" y2="1411.3" stroke="#ebebeb" stroke-width="2.8"/>
<line x1="689.7" y1="1084.3" x2="689.7" y2="1411.3" stroke="#ebebeb" stroke-width="2.8"/>
<rect x="158.3" y="1223.7" width="69.4" height="24.1" fill="#c5c6c8"/>
<path d="M246.75 1131.1H270.25M246.75 1163.7H270.25M258.5 1131.1V1163.7" stroke="#231f20" stroke-width="3.2" fill="none"/>
<rect x="227.7" y="1147.4" width="69.4" height="100.4" fill="#231f20"/>
<path d="M185.15 1197.3H208.65M185.15 1250.3H208.65M196.9 1197.3V1250.3" stroke="#231f20" stroke-width="3.2" fill="none"/>
<text transform="translate(223.6 1118.9) scale(1.05 1)" text-anchor="middle" font-size="33.5" font-weight="bold" fill="#231f20" stroke="#231f20" stroke-width="0.5">(90)</text>
<rect x="312.3" y="1191.8" width="69.4" height="56" fill="#c5c6c8"/>
<path d="M400.75 1127.4H424.25M400.75 1148.2H424.25M412.5 1127.4V1148.2" stroke="#231f20" stroke-width="3.2" fill="none"/>
<rect x="381.7" y="1137.8" width="69.4" height="110" fill="#231f20"/>
<path d="M339.15 1180.7H362.65M339.15 1202.2H362.65M350.9 1180.7V1202.2" stroke="#231f20" stroke-width="3.2" fill="none"/>
<text transform="translate(375.4 1118.9) scale(1.05 1)" text-anchor="middle" font-size="33.5" font-weight="bold" fill="#231f20" stroke="#231f20" stroke-width="0.5">(363)</text>
<rect x="466.3" y="1209.9" width="69.4" height="37.9" fill="#c5c6c8"/>
<path d="M554.75 1150.4H578.25M554.75 1166.6H578.25M566.5 1150.4V1166.6" stroke="#231f20" stroke-width="3.2" fill="none"/>
<rect x="535.7" y="1158.5" width="69.4" height="89.3" fill="#231f20"/>
<path d="M493.15 1201.4H516.65M493.15 1218H516.65M504.9 1201.4V1218" stroke="#231f20" stroke-width="3.2" fill="none"/>
<text transform="translate(528.9 1118.9) scale(1.05 1)" text-anchor="middle" font-size="33.5" font-weight="bold" fill="#231f20" stroke="#231f20" stroke-width="0.5">(358)</text>
<rect x="620.3" y="1173.6" width="69.4" height="74.2" fill="#c5c6c8"/>
<path d="M708.75 1181.9H732.25M708.75 1209.1H732.25M720.5 1181.9V1209.1" stroke="#231f20" stroke-width="3.2" fill="none"/>
<rect x="689.7" y="1195.5" width="69.4" height="52.3" fill="#231f20"/>
<path d="M647.15 1153.6H670.65M647.15 1192.9H670.65M658.9 1153.6V1192.9" stroke="#231f20" stroke-width="3.2" fill="none"/>
<text transform="translate(685.1 1118.9) scale(1.05 1)" text-anchor="middle" font-size="33.5" font-weight="bold" fill="#231f20" stroke="#231f20" stroke-width="0.5">(92)</text>
<rect x="135.9" y="1084.3" width="645.7" height="327.01" fill="none" stroke="#4d4d4d" stroke-width="2"/>
<rect x="796.8" y="1084.3" width="645.7" height="327.01" fill="#fff"/>
<line x1="796.8" y1="1136.32" x2="1442.5" y2="1136.32" stroke="#ebebeb" stroke-width="1.4"/>
<line x1="796.8" y1="1210.64" x2="1442.5" y2="1210.64" stroke="#ebebeb" stroke-width="1.4"/>
<line x1="796.8" y1="1284.96" x2="1442.5" y2="1284.96" stroke="#ebebeb" stroke-width="1.4"/>
<line x1="796.8" y1="1359.28" x2="1442.5" y2="1359.28" stroke="#ebebeb" stroke-width="1.4"/>
<line x1="796.8" y1="1099.16" x2="1442.5" y2="1099.16" stroke="#ebebeb" stroke-width="2.8"/>
<line x1="796.8" y1="1173.48" x2="1442.5" y2="1173.48" stroke="#ebebeb" stroke-width="2.8"/>
<line x1="796.8" y1="1247.8" x2="1442.5" y2="1247.8" stroke="#ebebeb" stroke-width="2.8"/>
<line x1="796.8" y1="1322.12" x2="1442.5" y2="1322.12" stroke="#ebebeb" stroke-width="2.8"/>
<line x1="796.8" y1="1396.44" x2="1442.5" y2="1396.44" stroke="#ebebeb" stroke-width="2.8"/>
<line x1="888.6" y1="1084.3" x2="888.6" y2="1411.3" stroke="#ebebeb" stroke-width="2.8"/>
<line x1="1042.6" y1="1084.3" x2="1042.6" y2="1411.3" stroke="#ebebeb" stroke-width="2.8"/>
<line x1="1196.6" y1="1084.3" x2="1196.6" y2="1411.3" stroke="#ebebeb" stroke-width="2.8"/>
<line x1="1350.6" y1="1084.3" x2="1350.6" y2="1411.3" stroke="#ebebeb" stroke-width="2.8"/>
<rect x="819.2" y="1247.8" width="69.4" height="39.7" fill="#c5c6c8"/>
<path d="M907.65 1337.1H931.15M907.65 1373.3H931.15M919.4 1337.1V1373.3" stroke="#231f20" stroke-width="3.2" fill="none"/>
<rect x="888.6" y="1247.8" width="69.4" height="107.4" fill="#231f20"/>
<path d="M846.05 1267.8H869.55M846.05 1307.3H869.55M857.8 1267.8V1307.3" stroke="#231f20" stroke-width="3.2" fill="none"/>
<text transform="translate(886.5 1117.4) scale(1.05 1)" text-anchor="middle" font-size="33.5" font-weight="bold" fill="#231f20" stroke="#231f20" stroke-width="0.5">(98)</text>
<rect x="973.2" y="1230.3" width="69.4" height="17.5" fill="#c5c6c8"/>
<path d="M1061.65 1280.6H1085.15M1061.65 1301.4H1085.15M1073.4 1280.6V1301.4" stroke="#231f20" stroke-width="3.2" fill="none"/>
<rect x="1042.6" y="1247.8" width="69.4" height="43.2" fill="#231f20"/>
<path d="M1000.05 1221.2H1023.55M1000.05 1239.1H1023.55M1011.8 1221.2V1239.1" stroke="#231f20" stroke-width="3.2" fill="none"/>
<text transform="translate(1038.5 1117.4) scale(1.05 1)" text-anchor="middle" font-size="33.5" font-weight="bold" fill="#231f20" stroke="#231f20" stroke-width="0.5">(378)</text>
<rect x="1127.2" y="1247.8" width="69.4" height="3.6" fill="#c5c6c8"/>
<path d="M1215.65 1270.1H1239.15M1215.65 1288.9H1239.15M1227.4 1270.1V1288.9" stroke="#231f20" stroke-width="3.2" fill="none"/>
<rect x="1196.6" y="1247.8" width="69.4" height="31.7" fill="#231f20"/>
<path d="M1154.05 1244.2H1177.55M1154.05 1259.4H1177.55M1165.8 1244.2V1259.4" stroke="#231f20" stroke-width="3.2" fill="none"/>
<text transform="translate(1191.6 1117.4) scale(1.05 1)" text-anchor="middle" font-size="33.5" font-weight="bold" fill="#231f20" stroke="#231f20" stroke-width="0.5">(382)</text>
<rect x="1281.2" y="1247.8" width="69.4" height="2.5" fill="#c5c6c8"/>
<path d="M1369.65 1275H1393.15M1369.65 1303.8H1393.15M1381.4 1275V1303.8" stroke="#231f20" stroke-width="3.2" fill="none"/>
<rect x="1350.6" y="1247.8" width="69.4" height="41.6" fill="#231f20"/>
<path d="M1308.05 1238.3H1331.55M1308.05 1263.4H1331.55M1319.8 1238.3V1263.4" stroke="#231f20" stroke-width="3.2" fill="none"/>
<text transform="translate(1348.3 1117.4) scale(1.05 1)" text-anchor="middle" font-size="33.5" font-weight="bold" fill="#231f20" stroke="#231f20" stroke-width="0.5">(92)</text>
<rect x="796.8" y="1084.3" width="645.7" height="327.01" fill="none" stroke="#4d4d4d" stroke-width="2"/>
<rect x="1457" y="1084.3" width="645.7" height="327.01" fill="#fff"/>
<line x1="1457" y1="1136.32" x2="2102.7" y2="1136.32" stroke="#ebebeb" stroke-width="1.4"/>
<line x1="1457" y1="1210.64" x2="2102.7" y2="1210.64" stroke="#ebebeb" stroke-width="1.4"/>
<line x1="1457" y1="1284.96" x2="2102.7" y2="1284.96" stroke="#ebebeb" stroke-width="1.4"/>
<line x1="1457" y1="1359.28" x2="2102.7" y2="1359.28" stroke="#ebebeb" stroke-width="1.4"/>
<line x1="1457" y1="1099.16" x2="2102.7" y2="1099.16" stroke="#ebebeb" stroke-width="2.8"/>
<line x1="1457" y1="1173.48" x2="2102.7" y2="1173.48" stroke="#ebebeb" stroke-width="2.8"/>
<line x1="1457" y1="1247.8" x2="2102.7" y2="1247.8" stroke="#ebebeb" stroke-width="2.8"/>
<line x1="1457" y1="1322.12" x2="2102.7" y2="1322.12" stroke="#ebebeb" stroke-width="2.8"/>
<line x1="1457" y1="1396.44" x2="2102.7" y2="1396.44" stroke="#ebebeb" stroke-width="2.8"/>
<line x1="1548.8" y1="1084.3" x2="1548.8" y2="1411.3" stroke="#ebebeb" stroke-width="2.8"/>
<line x1="1702.8" y1="1084.3" x2="1702.8" y2="1411.3" stroke="#ebebeb" stroke-width="2.8"/>
<line x1="1856.8" y1="1084.3" x2="1856.8" y2="1411.3" stroke="#ebebeb" stroke-width="2.8"/>
<line x1="2010.8" y1="1084.3" x2="2010.8" y2="1411.3" stroke="#ebebeb" stroke-width="2.8"/>
<rect x="1479.4" y="1247.8" width="69.4" height="81.6" fill="#c5c6c8"/>
<path d="M1567.85 1238.3H1591.35M1567.85 1269.4H1591.35M1579.6 1238.3V1269.4" stroke="#231f20" stroke-width="3.2" fill="none"/>
<rect x="1548.8" y="1247.8" width="69.4" height="5.3" fill="#231f20"/>
<path d="M1506.25 1308.3H1529.75M1506.25 1351.2H1529.75M1518 1308.3V1351.2" stroke="#231f20" stroke-width="3.2" fill="none"/>
<text transform="translate(1548.7 1117.4) scale(1.05 1)" text-anchor="middle" font-size="33.5" font-weight="bold" fill="#231f20" stroke="#231f20" stroke-width="0.5">(74)</text>
<rect x="1633.4" y="1247.8" width="69.4" height="66.1" fill="#c5c6c8"/>
<path d="M1721.85 1221.2H1745.35M1721.85 1238.4H1745.35M1733.6 1221.2V1238.4" stroke="#231f20" stroke-width="3.2" fill="none"/>
<rect x="1702.8" y="1229.8" width="69.4" height="18" fill="#231f20"/>
<path d="M1660.25 1302.7H1683.75M1660.25 1325.4H1683.75M1672 1302.7V1325.4" stroke="#231f20" stroke-width="3.2" fill="none"/>
<text transform="translate(1701.2 1117.4) scale(1.05 1)" text-anchor="middle" font-size="33.5" font-weight="bold" fill="#231f20" stroke="#231f20" stroke-width="0.5">(292)</text>
<rect x="1787.4" y="1247.8" width="69.4" height="37.1" fill="#c5c6c8"/>
<path d="M1875.85 1228.2H1899.35M1875.85 1242.6H1899.35M1887.6 1228.2V1242.6" stroke="#231f20" stroke-width="3.2" fill="none"/>
<rect x="1856.8" y="1235.4" width="69.4" height="12.4" fill="#231f20"/>
<path d="M1814.25 1275.8H1837.75M1814.25 1294.5H1837.75M1826 1275.8V1294.5" stroke="#231f20" stroke-width="3.2" fill="none"/>
<text transform="translate(1853.3 1117.4) scale(1.05 1)" text-anchor="middle" font-size="33.5" font-weight="bold" fill="#231f20" stroke="#231f20" stroke-width="0.5">(290)</text>
<rect x="1941.4" y="1247.8" width="69.4" height="20.4" fill="#c5c6c8"/>
<path d="M2029.85 1224.4H2053.35M2029.85 1243.2H2053.35M2041.6 1224.4V1243.2" stroke="#231f20" stroke-width="3.2" fill="none"/>
<rect x="2010.8" y="1233.8" width="69.4" height="14" fill="#231f20"/>
<path d="M1968.25 1252.3H1991.75M1968.25 1284.3H1991.75M1980 1252.3V1284.3" stroke="#231f20" stroke-width="3.2" fill="none"/>
<text transform="translate(2010.7 1117.4) scale(1.05 1)" text-anchor="middle" font-size="33.5" font-weight="bold" fill="#231f20" stroke="#231f20" stroke-width="0.5">(75)</text>
<rect x="1457" y="1084.3" width="645.7" height="327.01" fill="none" stroke="#4d4d4d" stroke-width="2"/>
<rect x="2103.5" y="1084.3" width="56.7" height="327.01" fill="#dcdddf" stroke="#4d4d4d" stroke-width="2"/>
<text transform="translate(2119.5 1247.8) rotate(90)" text-anchor="middle" font-size="38" font-weight="bold" fill="#414141">HWRC</text>
<line x1="128.2" y1="1099.16" x2="135.9" y2="1099.16" stroke="#6d6e70" stroke-width="2.2"/>
<text x="121.8" y="1112.56" text-anchor="end" font-size="37" font-weight="bold" fill="#6d6e70">2</text>
<line x1="128.2" y1="1173.48" x2="135.9" y2="1173.48" stroke="#6d6e70" stroke-width="2.2"/>
<text x="121.8" y="1186.88" text-anchor="end" font-size="37" font-weight="bold" fill="#6d6e70">1</text>
<line x1="128.2" y1="1247.8" x2="135.9" y2="1247.8" stroke="#6d6e70" stroke-width="2.2"/>
<text x="121.8" y="1261.2" text-anchor="end" font-size="37" font-weight="bold" fill="#6d6e70">0</text>
<line x1="128.2" y1="1322.12" x2="135.9" y2="1322.12" stroke="#6d6e70" stroke-width="2.2"/>
<text x="121.8" y="1335.52" text-anchor="end" font-size="37" font-weight="bold" fill="#6d6e70">−1</text>
<line x1="128.2" y1="1396.44" x2="135.9" y2="1396.44" stroke="#6d6e70" stroke-width="2.2"/>
<text x="121.8" y="1409.84" text-anchor="end" font-size="37" font-weight="bold" fill="#6d6e70">−2</text>
<rect x="135.9" y="4.4" width="645.7" height="57.4" fill="#dcdddf" stroke="#4d4d4d" stroke-width="2"/>
<text x="458.75" y="46.4" text-anchor="middle" font-size="38" font-weight="bold" fill="#414141">Closed canopy (Ambient rainfall)</text>
<rect x="796.8" y="4.4" width="645.7" height="57.4" fill="#dcdddf" stroke="#4d4d4d" stroke-width="2"/>
<text x="1119.65" y="46.4" text-anchor="middle" font-size="38" font-weight="bold" fill="#414141">Open canopy (Ambient rainfall)</text>
<rect x="1457" y="4.4" width="645.7" height="57.4" fill="#dcdddf" stroke="#4d4d4d" stroke-width="2"/>
<text x="1779.85" y="46.4" text-anchor="middle" font-size="38" font-weight="bold" fill="#414141">Open canopy (Rainfall reduction)</text>
<line x1="227.7" y1="1411.3" x2="227.7" y2="1418.8" stroke="#6d6e70" stroke-width="2.2"/>
<text x="227.7" y="1450.5" text-anchor="middle" font-size="36.2" font-weight="bold" fill="#6d6e70">0–10th</text>
<line x1="381.7" y1="1411.3" x2="381.7" y2="1418.8" stroke="#6d6e70" stroke-width="2.2"/>
<text x="381.7" y="1450.5" text-anchor="middle" font-size="36.2" font-weight="bold" fill="#6d6e70">10–50th</text>
<line x1="535.7" y1="1411.3" x2="535.7" y2="1418.8" stroke="#6d6e70" stroke-width="2.2"/>
<text x="535.7" y="1450.5" text-anchor="middle" font-size="36.2" font-weight="bold" fill="#6d6e70">50–90th</text>
<line x1="689.7" y1="1411.3" x2="689.7" y2="1418.8" stroke="#6d6e70" stroke-width="2.2"/>
<text x="689.7" y="1450.5" text-anchor="middle" font-size="36.2" font-weight="bold" fill="#6d6e70">90–100th</text>
<line x1="888.6" y1="1411.3" x2="888.6" y2="1418.8" stroke="#6d6e70" stroke-width="2.2"/>
<text x="888.6" y="1450.5" text-anchor="middle" font-size="36.2" font-weight="bold" fill="#6d6e70">0–10th</text>
<line x1="1042.6" y1="1411.3" x2="1042.6" y2="1418.8" stroke="#6d6e70" stroke-width="2.2"/>
<text x="1042.6" y="1450.5" text-anchor="middle" font-size="36.2" font-weight="bold" fill="#6d6e70">10–50th</text>
<line x1="1196.6" y1="1411.3" x2="1196.6" y2="1418.8" stroke="#6d6e70" stroke-width="2.2"/>
<text x="1196.6" y="1450.5" text-anchor="middle" font-size="36.2" font-weight="bold" fill="#6d6e70">50–90th</text>
<line x1="1350.6" y1="1411.3" x2="1350.6" y2="1418.8" stroke="#6d6e70" stroke-width="2.2"/>
<text x="1350.6" y="1450.5" text-anchor="middle" font-size="36.2" font-weight="bold" fill="#6d6e70">90–100th</text>
<line x1="1548.8" y1="1411.3" x2="1548.8" y2="1418.8" stroke="#6d6e70" stroke-width="2.2"/>
<text x="1548.8" y="1450.5" text-anchor="middle" font-size="36.2" font-weight="bold" fill="#6d6e70">0–10th</text>
<line x1="1702.8" y1="1411.3" x2="1702.8" y2="1418.8" stroke="#6d6e70" stroke-width="2.2"/>
<text x="1702.8" y="1450.5" text-anchor="middle" font-size="36.2" font-weight="bold" fill="#6d6e70">10–50th</text>
<line x1="1856.8" y1="1411.3" x2="1856.8" y2="1418.8" stroke="#6d6e70" stroke-width="2.2"/>
<text x="1856.8" y="1450.5" text-anchor="middle" font-size="36.2" font-weight="bold" fill="#6d6e70">50–90th</text>
<line x1="2010.8" y1="1411.3" x2="2010.8" y2="1418.8" stroke="#6d6e70" stroke-width="2.2"/>
<text x="2010.8" y="1450.5" text-anchor="middle" font-size="36.2" font-weight="bold" fill="#6d6e70">90–100th</text>
<rect x="926.1" y="136.3" width="50.9" height="50.5" fill="#c5c6c8"/>
<rect x="1128" y="136.3" width="51.4" height="50.5" fill="#231f20"/>
<text x="992.6" y="175" font-size="35" fill="#231f20">+1.7 °C</text>
<text x="1194.8" y="175" font-size="35" fill="#231f20">+3.3 °C</text>
<text transform="translate(50.3 669.6) rotate(-90)" font-size="50" fill="#231f20" textLength="545.5" lengthAdjust="spacing">&#916;RH (&#956;mol CO<tspan font-size="35" dy="9.4">2</tspan><tspan dy="-9.4"> m</tspan><tspan font-size="35" dy="-25.6">&#8722;2</tspan><tspan dy="25.6"> s</tspan><tspan font-size="35" dy="-25.6">&#8722;1</tspan><tspan dy="25.6">)</tspan></text>
<text transform="translate(50.3 1349.3) rotate(-90)" font-size="50" fill="#231f20" textLength="545" lengthAdjust="spacing">&#916;RA (&#956;mol CO<tspan font-size="35" dy="9.4">2</tspan><tspan dy="-9.4"> m</tspan><tspan font-size="35" dy="-25.6">&#8722;2</tspan><tspan dy="25.6"> s</tspan><tspan font-size="35" dy="-25.6">&#8722;1</tspan><tspan dy="25.6">)</tspan></text>
<text x="733.6" y="1500" font-size="50.6" fill="#231f20">Percentile of ambient soil moisture</text>
<text x="10" y="38.6" font-size="52" font-weight="bold" fill="#231f20">(a)</text>
<text x="9.5" y="774.3" font-size="52" font-weight="bold" fill="#231f20">(b)</text>
</svg>
</body></html>
